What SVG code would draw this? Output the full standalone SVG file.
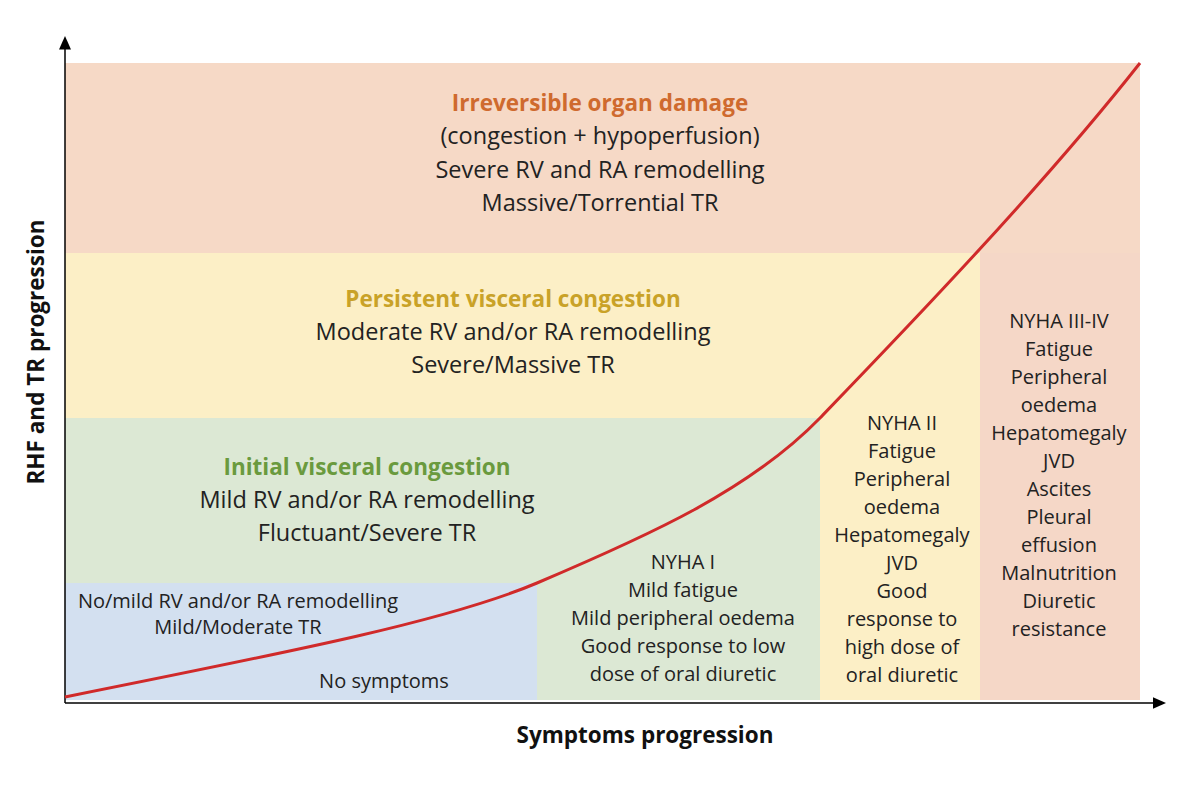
<svg xmlns="http://www.w3.org/2000/svg" width="1200" height="785" viewBox="0 0 1200 785">
<defs>
<marker id="ah" markerWidth="10" markerHeight="10" refX="5" refY="5" orient="auto"><path d="M0,1 L9,5 L0,9 z" fill="#000"/></marker>
<style>
text{font-family:"Open Sans","Liberation Sans",sans-serif;fill:#222;text-anchor:middle}
.b{font-size:23.5px}.s{font-size:20px}
.t{font-size:22.5px;font-weight:bold}
</style>
</defs>
<rect width="1200" height="785" fill="#fff"/>
<g id="regions">
<rect x="65" y="63" width="1075" height="190" fill="#f6d9c6"/>
<rect x="980" y="253" width="160" height="447" fill="#f5d7c7"/>
<rect x="65" y="253" width="915" height="165" fill="#fcefc6"/>
<rect x="820" y="418" width="160" height="282" fill="#fcefc6"/>
<rect x="65" y="418" width="755" height="165" fill="#dce8d4"/>
<rect x="537" y="583" width="283" height="117" fill="#dce8d4"/>
<rect x="65" y="583" width="472" height="117" fill="#d3e0f0"/>
</g>
<g id="connectors" stroke="#000" stroke-width="1.5" fill="none">
<line x1="65" y1="703" x2="65" y2="42" marker-end="url(#ah)"/>
<line x1="65" y1="703" x2="1160" y2="703" marker-end="url(#ah)"/>
<path d="M65,697 C300,650 450,620 537,583 C650,535 750,490 820,418 C900,335 1040,190 1140,63" stroke="#d02a2a" stroke-width="3"/>
</g>
<g id="n-top">
<text x="600" y="111" class="t" style="fill:#cf6a2e">Irreversible organ damage</text>
<text x="600" y="144" class="b">(congestion + hypoperfusion)</text>
<text x="600" y="178" class="b">Severe RV and RA remodelling</text>
<text x="600" y="211" class="b">Massive/Torrential TR</text>
</g>
<g id="n-yellow">
<text x="513" y="307" class="t" style="fill:#c9a228">Persistent visceral congestion</text>
<text x="513" y="340" class="b">Moderate RV and/or RA remodelling</text>
<text x="513" y="373" class="b">Severe/Massive TR</text>
</g>
<g id="n-green">
<text x="367" y="475" class="t" style="fill:#6a9a3e">Initial visceral congestion</text>
<text x="367" y="508" class="b">Mild RV and/or RA remodelling</text>
<text x="367" y="541" class="b">Fluctuant/Severe TR</text>
</g>
<g id="n-blue">
<text x="238" y="608" class="s">No/mild RV and/or RA remodelling</text>
<text x="238" y="634" class="s">Mild/Moderate TR</text>
<text x="384" y="688" class="s">No symptoms</text>
</g>
<g id="n-nyha1">
<text x="683" y="569" class="s">NYHA I</text>
<text x="683" y="597" class="s">Mild fatigue</text>
<text x="683" y="625" class="s">Mild peripheral oedema</text>
<text x="683" y="653" class="s">Good response to low</text>
<text x="683" y="681" class="s">dose of oral diuretic</text>
</g>
<g id="n-nyha2">
<text x="902" y="430" class="s">NYHA II</text>
<text x="902" y="458" class="s">Fatigue</text>
<text x="902" y="486" class="s">Peripheral</text>
<text x="902" y="514" class="s">oedema</text>
<text x="902" y="542" class="s">Hepatomegaly</text>
<text x="902" y="570" class="s">JVD</text>
<text x="902" y="598" class="s">Good</text>
<text x="902" y="626" class="s">response to</text>
<text x="902" y="654" class="s">high dose of</text>
<text x="902" y="682" class="s">oral diuretic</text>
</g>
<g id="n-nyha34">
<text x="1059" y="328" class="s">NYHA III-IV</text>
<text x="1059" y="356" class="s">Fatigue</text>
<text x="1059" y="384" class="s">Peripheral</text>
<text x="1059" y="412" class="s">oedema</text>
<text x="1059" y="440" class="s">Hepatomegaly</text>
<text x="1059" y="468" class="s">JVD</text>
<text x="1059" y="496" class="s">Ascites</text>
<text x="1059" y="524" class="s">Pleural</text>
<text x="1059" y="552" class="s">effusion</text>
<text x="1059" y="580" class="s">Malnutrition</text>
<text x="1059" y="608" class="s">Diuretic</text>
<text x="1059" y="636" class="s">resistance</text>
</g>
<g id="axis-labels">
<text x="645" y="743" class="t" style="fill:#111">Symptoms progression</text>
<text x="0" y="0" class="t" style="fill:#111" transform="translate(44,352) rotate(-90)">RHF and TR progression</text>
</g>
</svg>
